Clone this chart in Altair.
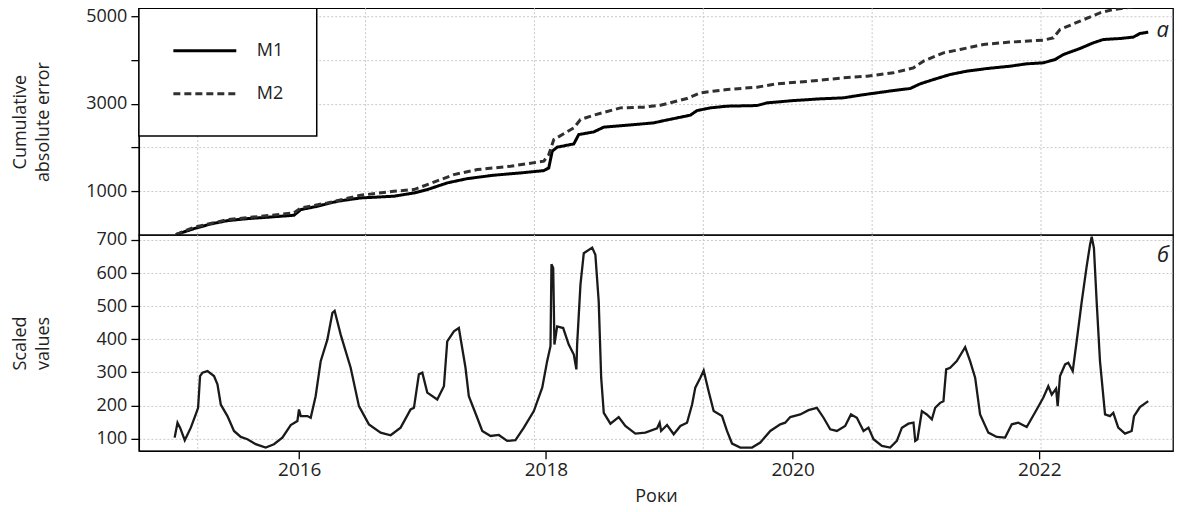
import altair as alt
import pandas as pd

FONT = "Open Sans"

# ---- data ----
m1_years = [2015.0, 2015.147, 2015.283, 2015.418, 2015.580, 2015.742, 2015.957, 2016.012, 2016.147,
            2016.309, 2016.498, 2016.768, 2016.930, 2017.038, 2017.200, 2017.362, 2017.578, 2017.794,
            2017.983, 2018.023, 2018.051, 2018.091, 2018.226, 2018.266, 2018.388, 2018.469, 2018.658,
            2018.874, 2018.952, 2019.171, 2019.225, 2019.333, 2019.468, 2019.711, 2019.792, 2020.008,
            2020.224, 2020.413, 2020.548, 2020.683, 2020.818, 2020.953, 2021.034, 2021.142, 2021.277,
            2021.412, 2021.574, 2021.763, 2021.898, 2022.033, 2022.128, 2022.195, 2022.330, 2022.438,
            2022.519, 2022.654, 2022.762, 2022.816, 2022.883]
m1_values = [10, 145, 253, 328, 374, 406, 451, 580, 657,
             771, 847, 886, 961, 1037, 1190, 1288, 1366, 1418,
             1471, 1533, 1914, 2006, 2081, 2294, 2355, 2463, 2508,
             2561, 2610, 2737, 2842, 2904, 2943, 2957, 3018, 3071,
             3110, 3133, 3194, 3247, 3300, 3346, 3453, 3551, 3666,
             3742, 3802, 3856, 3910, 3933, 4008, 4122, 4260, 4390,
             4465, 4488, 4520, 4602, 4634]

m2_years = [2015.0, 2015.147, 2015.418, 2015.688, 2015.957, 2016.012, 2016.228, 2016.498, 2016.768,
            2016.930, 2017.038, 2017.254, 2017.443, 2017.713, 2017.983, 2018.023, 2018.064, 2018.226,
            2018.280, 2018.388, 2018.604, 2018.793, 2018.928, 2019.144, 2019.252, 2019.468, 2019.711,
            2019.873, 2020.143, 2020.413, 2020.602, 2020.818, 2020.980, 2021.061, 2021.223, 2021.358,
            2021.547, 2021.763, 2022.033, 2022.114, 2022.168, 2022.330, 2022.492, 2022.600, 2022.735,
            2022.883]
m2_values = [10, 177, 350, 428, 504, 618, 733, 908, 1000,
             1037, 1151, 1380, 1494, 1571, 1686, 1837, 2180, 2447,
             2637, 2737, 2904, 2920, 2965, 3117, 3247, 3323, 3377,
             3453, 3514, 3590, 3628, 3704, 3818, 3971, 4161, 4237,
             4351, 4406, 4451, 4504, 4694, 4885, 5075, 5151, 5200,
             5270]

s_years = [2014.990, 2015.013, 2015.034, 2015.072, 2015.121, 2015.161, 2015.180, 2015.196, 2015.215,
           2015.256, 2015.309, 2015.337, 2015.364, 2015.418, 2015.471, 2015.526, 2015.580, 2015.647,
           2015.728, 2015.795, 2015.863, 2015.931, 2015.985, 2015.998, 2016.012, 2016.066, 2016.093,
           2016.133, 2016.174, 2016.228, 2016.269, 2016.287, 2016.336, 2016.417, 2016.484, 2016.565,
           2016.660, 2016.741, 2016.822, 2016.903, 2016.930, 2016.970, 2016.998, 2017.038, 2017.119,
           2017.173, 2017.200, 2017.254, 2017.294, 2017.348, 2017.375, 2017.443, 2017.484, 2017.551,
           2017.618, 2017.686, 2017.753, 2017.821, 2017.902, 2017.970, 2018.010, 2018.037, 2018.045,
           2018.059, 2018.069, 2018.091, 2018.140, 2018.185, 2018.226, 2018.247, 2018.253, 2018.280,
           2018.307, 2018.375, 2018.401, 2018.428, 2018.448, 2018.469, 2018.523, 2018.590, 2018.644,
           2018.725, 2018.806, 2018.901, 2018.922, 2018.934, 2018.982, 2019.036, 2019.090, 2019.144,
           2019.185, 2019.211, 2019.252, 2019.279, 2019.319, 2019.360, 2019.428, 2019.468, 2019.509,
           2019.576, 2019.671, 2019.738, 2019.819, 2019.900, 2019.940, 2019.981, 2020.062, 2020.129,
           2020.197, 2020.251, 2020.305, 2020.359, 2020.426, 2020.473, 2020.521, 2020.575, 2020.615,
           2020.656, 2020.724, 2020.791, 2020.845, 2020.886, 2020.939, 2020.980, 2020.994, 2021.012,
           2021.048, 2021.088, 2021.129, 2021.156, 2021.196, 2021.223, 2021.245, 2021.277, 2021.331,
           2021.399, 2021.439, 2021.480, 2021.520, 2021.587, 2021.655, 2021.723, 2021.777, 2021.830,
           2021.898, 2021.979, 2022.033, 2022.073, 2022.101, 2022.136, 2022.149, 2022.168, 2022.209,
           2022.235, 2022.271, 2022.303, 2022.344, 2022.384, 2022.411, 2022.425, 2022.443, 2022.465,
           2022.492, 2022.533, 2022.573, 2022.600, 2022.640, 2022.695, 2022.749, 2022.768, 2022.816,
           2022.883]
s_values = [103, 148, 133, 95, 133, 173, 193, 289, 299,
            304, 289, 264, 203, 168, 123, 105, 98, 83,
            73, 83, 103, 141, 153, 188, 168, 168, 163,
            228, 334, 399, 480, 486, 414, 314, 198, 143,
            118, 110, 133, 188, 193, 294, 299, 239, 218,
            258, 394, 424, 434, 314, 228, 163, 123, 108,
            111, 93, 95, 133, 183, 254, 334, 379, 627,
            615, 384, 439, 434, 384, 354, 309, 384, 565,
            660, 677, 655, 514, 284, 178, 145, 165, 138,
            115, 118, 131, 148, 123, 141, 113, 138, 148,
            203, 254, 284, 306, 243, 183, 168, 123, 85,
            73, 73, 88, 123, 143, 148, 165, 173, 186,
            193, 163, 128, 123, 138, 173, 163, 123, 133,
            98, 78, 73, 93, 133, 145, 148, 93, 98,
            183, 173, 158, 193, 208, 213, 309, 314, 334,
            376, 334, 284, 173, 118, 105, 103, 143, 148,
            135, 188, 224, 258, 233, 251, 198, 289, 324,
            329, 304, 394, 514, 620, 685, 710, 675, 514,
            334, 173, 168, 178, 133, 115, 123, 168, 195,
            213]

grid_years = [2015.177, 2016.538, 2017.907, 2019.276, 2020.645, 2022.014]
x_ticks = [2016, 2018, 2020, 2022]
top_ticks = [1000, 2000, 3000, 4000, 5000]
bottom_ticks = [100, 200, 300, 400, 500, 600, 700]
series_names = ["M1", "M2"]
panel_labels = ["а", "б"]

X_DOMAIN = [2014.70, 2023.084]
W, H_TOP, H_BOT = 1035, 227, 216

top_df = pd.concat([
    pd.DataFrame({"year": m1_years, "value": m1_values, "model": "M1"}),
    pd.DataFrame({"year": m2_years, "value": m2_values, "model": "M2"}),
])
s_df = pd.DataFrame({"year": s_years, "value": s_values})
grid_df = pd.DataFrame({"year": grid_years})

xscale = alt.Scale(domain=X_DOMAIN, nice=False, zero=False)

y_axis_common = dict(
    tickSize=8, tickWidth=1.3, tickColor="black", domainColor="black", domainWidth=1.3,
    labelFontSize=18, labelFont=FONT, labelColor="#222", labelPadding=4,
    titleFontSize=18, titleFont=FONT, titleColor="#222", titleFontWeight="normal",
    titlePadding=9, minExtent=77, maxExtent=77, titleLineHeight=23,
    grid=True, gridColor="#c9c9c9", gridDash=[2, 2], gridWidth=1,
)

vgrid_top = alt.Chart(grid_df).mark_rule(color="#c9c9c9", strokeDash=[2, 2], strokeWidth=1).encode(
    x=alt.X("year:Q", scale=xscale, axis=None)
)

top_lines = alt.Chart(top_df).mark_line(strokeWidth=3, clip=True).encode(
    x=alt.X("year:Q", scale=xscale, axis=None),
    y=alt.Y("value:Q", scale=alt.Scale(domain=[0, 5180], nice=False, zero=False),
            axis=alt.Axis(values=top_ticks, format="d",
                          labelExpr="datum.value % 2000 == 1000 ? datum.label : ''",
                          title=["Cumulative", "absolute error"], **y_axis_common)),
    color=alt.Color("model:N", scale=alt.Scale(domain=series_names, range=["#000000", "#303030"]),
                    legend=alt.Legend(title=None)),
    strokeDash=alt.StrokeDash("model:N", scale=alt.Scale(domain=series_names, range=[[1, 0], [7, 4]]),
                              legend=alt.Legend(title=None)),
)

label_top = alt.Chart(pd.DataFrame({"t": [panel_labels[0]]})).mark_text(
    font=FONT, fontSize=22, fontStyle="italic", align="right", baseline="middle", color="#222"
).encode(x=alt.value(W - 4), y=alt.value(22), text="t:N")

top = alt.layer(vgrid_top, top_lines, label_top).properties(width=W, height=H_TOP)

vgrid_bot = alt.Chart(grid_df).mark_rule(color="#c9c9c9", strokeDash=[2, 2], strokeWidth=1).encode(
    x=alt.X("year:Q", scale=xscale)
)

bot_line = alt.Chart(s_df).mark_line(strokeWidth=2.3, color="#1a1a1a", clip=True).encode(
    x=alt.X("year:Q", scale=xscale,
            axis=alt.Axis(values=x_ticks, format="d", title="Роки", grid=False,
                          tickSize=8, tickWidth=1.3, tickColor="black", domainColor="black", domainWidth=1.3,
                          labelFontSize=19, labelFont=FONT, labelColor="#222", labelPadding=2,
                          titleFontSize=18, titleFont=FONT, titleColor="#222", titleFontWeight="normal",
                          titlePadding=8)),
    y=alt.Y("value:Q", scale=alt.Scale(domain=[63, 715], nice=False, zero=False),
            axis=alt.Axis(values=bottom_ticks, format="d", title=["Scaled", "values"], **y_axis_common)),
)

label_bot = alt.Chart(pd.DataFrame({"t": [panel_labels[1]]})).mark_text(
    font=FONT, fontSize=22, fontStyle="italic", align="right", baseline="middle", color="#222"
).encode(x=alt.value(W - 4), y=alt.value(20), text="t:N")

bottom = alt.layer(vgrid_bot, bot_line, label_bot).properties(width=W, height=H_BOT)

chart = alt.vconcat(top, bottom, spacing=0, bounds="flush").resolve_scale(
    color="independent", strokeDash="independent"
).resolve_legend(
    color="independent", strokeDash="independent"
).properties(
    padding={"left": 3, "top": -2, "right": 0, "bottom": 0}
).configure_view(
    stroke="black", strokeWidth=1.3
).configure_legend(
    orient="none", legendX=0, legendY=0,
    strokeColor="black", strokeWidth=1.5, fillColor="white",
    padding=33, rowPadding=24, labelOffset=66,
    symbolType="M-1,0H6.875", symbolSize=256, symbolStrokeWidth=3,
    labelFont=FONT, labelFontSize=18, labelColor="#222",
)

chart.save("out.html", embed_options={"renderer": "svg", "actions": False})
